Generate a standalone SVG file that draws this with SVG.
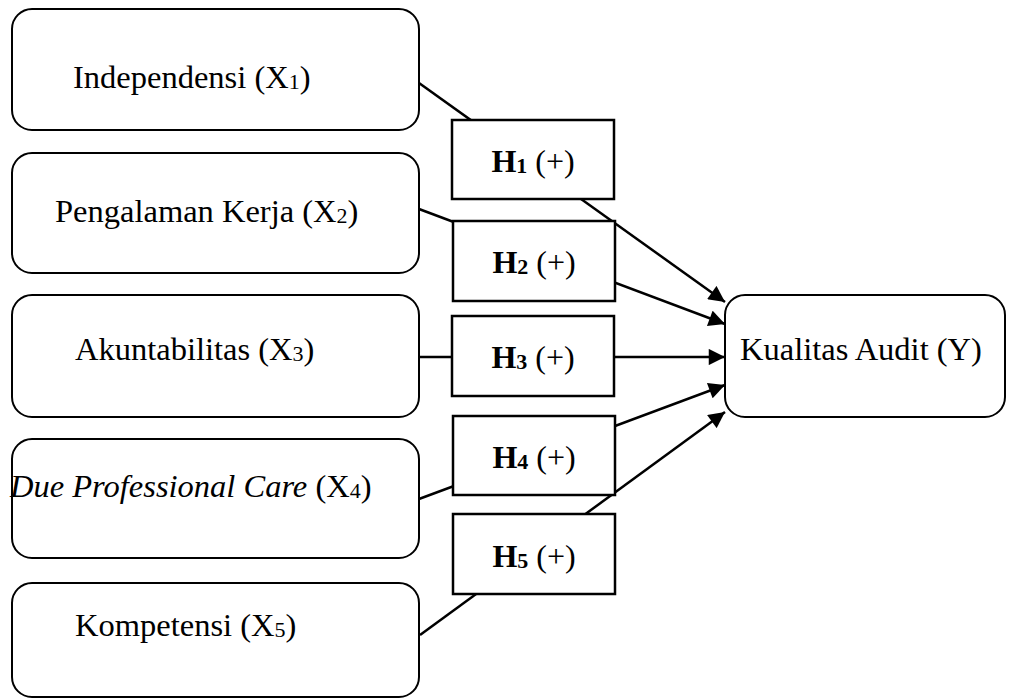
<svg xmlns="http://www.w3.org/2000/svg" width="1010" height="700" viewBox="0 0 1010 700">
<style>
.node{fill:#fff;stroke:#000;stroke-width:2}
.hbox{fill:#fff;stroke:#000;stroke-width:2.5}
.lbl{font-family:"Liberation Serif","Times New Roman",serif;font-size:32.5px;fill:#000}
.h{font-family:"Liberation Serif","Times New Roman",serif;font-size:32px;fill:#000;text-anchor:middle}
.sub{font-size:22px}
.conn{stroke:#000;stroke-width:2.5;fill:none}
</style>
<defs>
<marker id="arr" viewBox="0 0 10 10" refX="10" refY="5" markerWidth="7" markerHeight="6.5" markerUnits="strokeWidth" orient="auto">
<path d="M0,0 L10,5 L0,10 z" fill="#000"/>
</marker>
</defs>
<g id="connectors">
<line class="conn" x1="419" y1="83" x2="725" y2="302" marker-end="url(#arr)"/>
<line class="conn" x1="419" y1="209" x2="725" y2="324" marker-end="url(#arr)"/>
<line class="conn" x1="419" y1="357" x2="725" y2="357" marker-end="url(#arr)"/>
<line class="conn" x1="419" y1="499" x2="725" y2="385" marker-end="url(#arr)"/>
<line class="conn" x1="420" y1="635" x2="725" y2="412" marker-end="url(#arr)"/>
</g>
<g id="x1">
<rect class="node" x="12" y="9" width="407" height="121" rx="20"/>
<text class="lbl" x="73" y="88">Independensi (X<tspan class="sub" dy="1">1</tspan><tspan dy="-1">)</tspan></text>
</g>
<g id="x2">
<rect class="node" x="12" y="153" width="407" height="120" rx="20"/>
<text class="lbl" x="55" y="222">Pengalaman Kerja (X<tspan class="sub" dy="1">2</tspan><tspan dy="-1">)</tspan></text>
</g>
<g id="x3">
<rect class="node" x="12" y="295" width="407" height="122" rx="20"/>
<text class="lbl" x="75" y="360">Akuntabilitas (X<tspan class="sub" dy="1">3</tspan><tspan dy="-1">)</tspan></text>
</g>
<g id="x4">
<rect class="node" x="12" y="439" width="407" height="119" rx="20"/>
<text class="lbl" x="10" y="497"><tspan font-style="italic">Due Professional Care</tspan> (X<tspan class="sub" dy="1">4</tspan><tspan dy="-1">)</tspan></text>
</g>
<g id="x5">
<rect class="node" x="12" y="583" width="407" height="114" rx="20"/>
<text class="lbl" x="75" y="636">Kompetensi (X<tspan class="sub" dy="1">5</tspan><tspan dy="-1">)</tspan></text>
</g>
<g id="y">
<rect class="node" x="725" y="295" width="280" height="122" rx="20"/>
<text class="lbl" x="740" y="360">Kualitas Audit (Y)</text>
</g>
<g id="h1">
<rect class="hbox" x="452" y="120" width="162" height="79"/>
<text class="h" x="533" y="172"><tspan font-weight="bold">H<tspan class="sub" dy="1">1</tspan></tspan><tspan dy="-1"> (+)</tspan></text>
</g>
<g id="h2">
<rect class="hbox" x="453" y="221" width="162" height="80"/>
<text class="h" x="534" y="273"><tspan font-weight="bold">H<tspan class="sub" dy="1">2</tspan></tspan><tspan dy="-1"> (+)</tspan></text>
</g>
<g id="h3">
<rect class="hbox" x="452" y="316" width="162" height="80"/>
<text class="h" x="533" y="368"><tspan font-weight="bold">H<tspan class="sub" dy="1">3</tspan></tspan><tspan dy="-1"> (+)</tspan></text>
</g>
<g id="h4">
<rect class="hbox" x="453" y="416" width="162" height="79"/>
<text class="h" x="534" y="468"><tspan font-weight="bold">H<tspan class="sub" dy="1">4</tspan></tspan><tspan dy="-1"> (+)</tspan></text>
</g>
<g id="h5">
<rect class="hbox" x="453" y="514" width="162" height="80"/>
<text class="h" x="534" y="567"><tspan font-weight="bold">H<tspan class="sub" dy="1">5</tspan></tspan><tspan dy="-1"> (+)</tspan></text>
</g>
</svg>
